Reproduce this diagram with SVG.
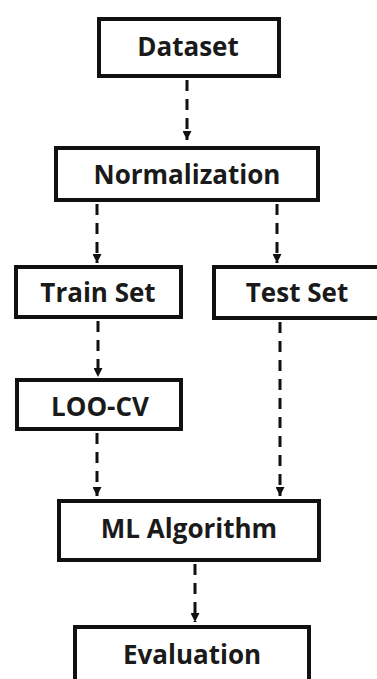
<svg xmlns="http://www.w3.org/2000/svg" width="377" height="679" viewBox="0 0 377 679">
<style>
.box{fill:#fff;stroke:#111;stroke-width:4}
.lbl{font-family:"Open Sans","Noto Sans",sans-serif;font-weight:bold;font-size:26px;fill:#1a1a1a;text-anchor:middle}
.con{stroke:#111;stroke-width:3;stroke-dasharray:11 8;fill:none}
</style>
<defs>
<marker id="ah" viewBox="0 0 10 10" refX="10" refY="5" markerUnits="userSpaceOnUse" markerWidth="9" markerHeight="9" orient="auto">
<path d="M0,0 L10,5 L0,10 z" fill="#111"/>
</marker>
</defs>
<rect width="377" height="679" fill="#fff"/>
<g id="connectors">
<line class="con" x1="187" y1="80" x2="187" y2="140" marker-end="url(#ah)"/>
<line class="con" x1="97" y1="204" x2="97" y2="263" marker-end="url(#ah)"/>
<line class="con" x1="277" y1="204" x2="277" y2="263" marker-end="url(#ah)"/>
<line class="con" x1="98" y1="321" x2="98" y2="377" marker-end="url(#ah)"/>
<line class="con" x1="97" y1="433" x2="97" y2="496" marker-end="url(#ah)"/>
<line class="con" x1="280" y1="322" x2="280" y2="496" marker-end="url(#ah)"/>
<line class="con" x1="195" y1="564" x2="195" y2="622" marker-end="url(#ah)"/>
</g>
<g id="dataset"><rect class="box" x="99" y="19" width="180" height="57"/><text class="lbl" x="188" y="56">Dataset</text></g>
<g id="normalization"><rect class="box" x="56" y="148" width="262" height="52"/><text class="lbl" x="187" y="184">Normalization</text></g>
<g id="trainset"><rect class="box" x="16" y="267" width="165" height="50"/><text class="lbl" x="98" y="302">Train Set</text></g>
<g id="testset"><rect class="box" x="214" y="267" width="200" height="51"/><text class="lbl" x="297" y="302">Test Set</text></g>
<g id="loocv"><rect class="box" x="17" y="380" width="164" height="49"/><text class="lbl" x="100" y="416">LOO-CV</text></g>
<g id="ml"><rect class="box" x="59" y="501" width="260" height="59"/><text class="lbl" x="189" y="538">ML Algorithm</text></g>
<g id="evaluation"><rect class="box" x="75" y="627" width="234" height="70"/><text class="lbl" x="192" y="664">Evaluation</text></g>
</svg>
